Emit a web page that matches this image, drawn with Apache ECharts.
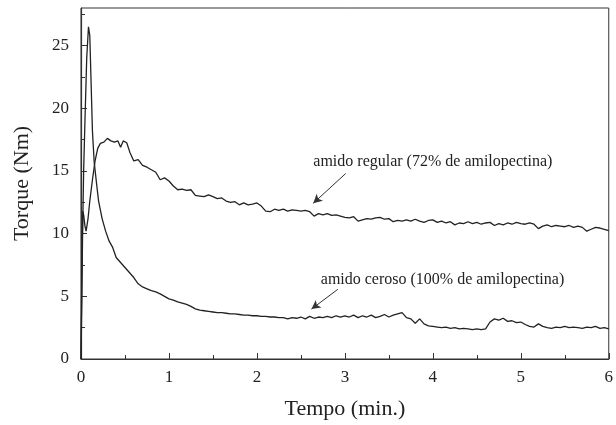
<!DOCTYPE html>
<html><head><meta charset="utf-8">
<script src="https://cdn.jsdelivr.net/npm/echarts@6/dist/echarts.min.js"></script>
<style>html,body{margin:0;padding:0;background:#fff}#c{width:616px;height:425px}</style>
</head><body><div id="c"></div>
<script>
// ---- data ----
const xTicks = [0, 1, 2, 3, 4, 5, 6];
const yTicks = [0, 5, 10, 15, 20, 25];
const yMinorTicks = [2.5, 7.5, 12.5, 17.5, 22.5, 27.5];

const regEarlyT = [0, 0.008, 0.02, 0.03, 0.045, 0.058, 0.08, 0.1, 0.13, 0.16, 0.19, 0.22, 0.26, 0.3, 0.34, 0.38, 0.42, 0.45, 0.48, 0.52, 0.555];
const regEarlyV = [0, 6, 11.8, 11.5, 10.6, 10.2, 11.2, 12.6, 14.3, 15.8, 16.8, 17.2, 17.3, 17.6, 17.4, 17.3, 17.4, 16.9, 17.4, 17.25, 16.5];

const waxEarlyT = [0, 0.008, 0.018, 0.03, 0.045, 0.065, 0.085, 0.1, 0.13, 0.15, 0.18, 0.2, 0.24, 0.28, 0.32, 0.36, 0.4, 0.45, 0.5, 0.55];
const waxEarlyV = [0, 4, 10, 15, 19, 24, 26.5, 25.8, 18.2, 15.7, 13.8, 12.6, 11.2, 10.2, 9.4, 8.9, 8.1, 7.7, 7.3, 6.9];

const lateT = [0.60,0.65,0.70,0.75,0.80,0.85,0.90,0.95,1.00,1.05,1.10,1.15,1.20,1.25,1.30,1.35,1.40,1.45,1.50,1.55,
1.60,1.65,1.70,1.75,1.80,1.85,1.90,1.95,2.00,2.05,2.10,2.15,2.20,2.25,2.30,2.35,2.40,2.45,2.50,2.55,
2.60,2.65,2.70,2.75,2.80,2.85,2.90,2.95,3.00,3.05,3.10,3.15,3.20,3.25,3.30,3.35,3.40,3.45,3.50,3.55,
3.60,3.65,3.70,3.75,3.80,3.85,3.90,3.95,4.00,4.05,4.10,4.15,4.20,4.25,4.30,4.35,4.40,4.45,4.50,4.55,
4.60,4.65,4.70,4.75,4.80,4.85,4.90,4.95,5.00,5.05,5.10,5.15,5.20,5.25,5.30,5.35,5.40,5.45,5.50,5.55,
5.60,5.65,5.70,5.75,5.80,5.85,5.90,5.95,6.00];

const regLateV = [15.8,15.9,15.45,15.3,15.1,14.9,14.3,14.45,14.2,13.8,13.5,13.55,13.45,13.5,13.05,13.0,12.95,13.1,12.95,12.8,
12.85,12.6,12.5,12.55,12.3,12.45,12.3,12.35,12.45,12.2,11.8,11.75,11.95,11.85,11.95,11.8,11.9,11.85,11.8,11.85,
11.75,11.4,11.6,11.5,11.6,11.45,11.5,11.4,11.3,11.25,11.35,11.0,11.1,11.2,11.15,11.25,11.3,11.15,11.2,10.95,
11.05,11.0,11.1,11.0,11.15,11.0,10.9,11.05,11.1,10.9,11.0,10.85,10.95,10.7,10.85,10.8,10.95,10.8,10.9,10.75,
10.85,10.9,10.65,10.8,10.7,10.85,10.75,10.9,10.8,10.75,10.85,10.75,10.4,10.6,10.7,10.55,10.65,10.6,10.55,10.65,
10.5,10.6,10.5,10.2,10.35,10.5,10.45,10.35,10.25];

const waxLateV = [6.5,6.0,5.75,5.6,5.45,5.35,5.2,5.0,4.8,4.7,4.55,4.45,4.35,4.2,4.0,3.9,3.85,3.8,3.75,3.7,
3.7,3.65,3.6,3.6,3.55,3.5,3.5,3.45,3.45,3.4,3.4,3.35,3.35,3.3,3.3,3.2,3.3,3.25,3.35,3.2,
3.4,3.25,3.35,3.3,3.4,3.3,3.45,3.35,3.45,3.35,3.5,3.3,3.45,3.35,3.5,3.3,3.4,3.55,3.35,3.5,
3.6,3.7,3.3,3.2,2.85,3.2,2.8,2.65,2.6,2.55,2.5,2.55,2.45,2.5,2.4,2.45,2.4,2.35,2.4,2.35,
2.4,2.95,3.2,3.1,3.25,3.0,3.05,2.9,2.95,2.75,2.6,2.55,2.8,2.6,2.5,2.45,2.55,2.5,2.6,2.5,
2.55,2.5,2.45,2.55,2.5,2.6,2.45,2.5,2.4];

const labelRegular = 'amido regular (72% de amilopectina)';
const labelWaxy = 'amido ceroso (100% de amilopectina)';
const arrowRegular = [[3.01, 14.8], [2.64, 12.42]];
const arrowWaxy = [[2.92, 5.56], [2.62, 3.98]];
const textRegularPos = [4.0, 15.74];
const textWaxyPos = [4.11, 6.33];

// ---- build ----
function pairs(t, v) { return t.map((x, i) => [x, v[i]]); }
const regData = pairs(regEarlyT.concat(lateT), regEarlyV.concat(regLateV));
const waxData = pairs(waxEarlyT.concat(lateT), waxEarlyV.concat(waxLateV));

const FONT = '"Liberation Serif","Times New Roman",serif';
const INK = '#222';
const chart = echarts.init(document.getElementById('c'), null, {renderer: 'canvas'});

const lineStyle = {color: '#222', width: 1.3};
chart.setOption({
  animation: false,
  backgroundColor: '#fff',
  grid: {left: 81, right: 5, top: 8, bottom: 63, show: true, borderColor: '#333', borderWidth: 1, backgroundColor: 'transparent'},
  xAxis: {
    type: 'value', min: 0, max: 6, interval: 1,
    name: 'Tempo (min.)', nameLocation: 'middle', nameGap: 39,
    nameTextStyle: {fontFamily: FONT, fontSize: 22, color: INK},
    axisLine: {show: true, lineStyle: {color: '#333', width: 1.2}},
    axisTick: {show: true, inside: true, length: 6, lineStyle: {color: '#333'}},
    minorTick: {show: true, splitNumber: 2, length: 4, lineStyle: {color: '#333'}},
    axisLabel: {fontFamily: FONT, fontSize: 17, color: INK, margin: 10, customValues: xTicks},
    splitLine: {show: false}
  },
  yAxis: [{
    type: 'value', min: 0, max: 28,
    name: 'Torque (Nm)', nameLocation: 'middle', nameGap: 48,
    nameTextStyle: {fontFamily: FONT, fontSize: 22, color: INK},
    axisLine: {show: true, lineStyle: {color: '#333', width: 1.2}},
    axisTick: {show: true, inside: true, length: 6, lineStyle: {color: '#333'}, customValues: yTicks},
    axisLabel: {fontFamily: FONT, fontSize: 17, color: INK, margin: 12, customValues: yTicks},
    splitLine: {show: false}
  }, {
    type: 'value', min: 0, max: 28, position: 'left',
    axisLine: {show: false},
    axisTick: {show: true, inside: true, length: 4, lineStyle: {color: '#333'}, customValues: yMinorTicks},
    axisLabel: {show: false},
    splitLine: {show: false}
  }],
  series: [{
    type: 'line', name: 'regular', data: regData, showSymbol: false, symbol: 'none',
    lineStyle: lineStyle,
    markLine: {
      silent: true, symbol: ['none', 'arrow'], symbolSize: [7, 9],
      lineStyle: {color: '#333', width: 1, type: 'solid'}, label: {show: false},
      data: [[{coord: arrowRegular[0]}, {coord: arrowRegular[1]}]]
    }
  }, {
    type: 'line', name: 'ceroso', data: waxData, showSymbol: false, symbol: 'none',
    lineStyle: lineStyle,
    markLine: {
      silent: true, symbol: ['none', 'arrow'], symbolSize: [7, 9],
      lineStyle: {color: '#333', width: 1, type: 'solid'}, label: {show: false},
      data: [[{coord: arrowWaxy[0]}, {coord: arrowWaxy[1]}]]
    }
  }]
});

const p1 = chart.convertToPixel({gridIndex: 0}, textRegularPos);
const p2 = chart.convertToPixel({gridIndex: 0}, textWaxyPos);
chart.setOption({
  graphic: [
    {type: 'text', x: p1[0], y: p1[1], style: {text: labelRegular, fontFamily: FONT, fontSize: 16, fill: INK, align: 'center', verticalAlign: 'middle'}},
    {type: 'text', x: p2[0], y: p2[1], style: {text: labelWaxy, fontFamily: FONT, fontSize: 16, fill: INK, align: 'center', verticalAlign: 'middle'}}
  ]
});
</script>
</body></html>
